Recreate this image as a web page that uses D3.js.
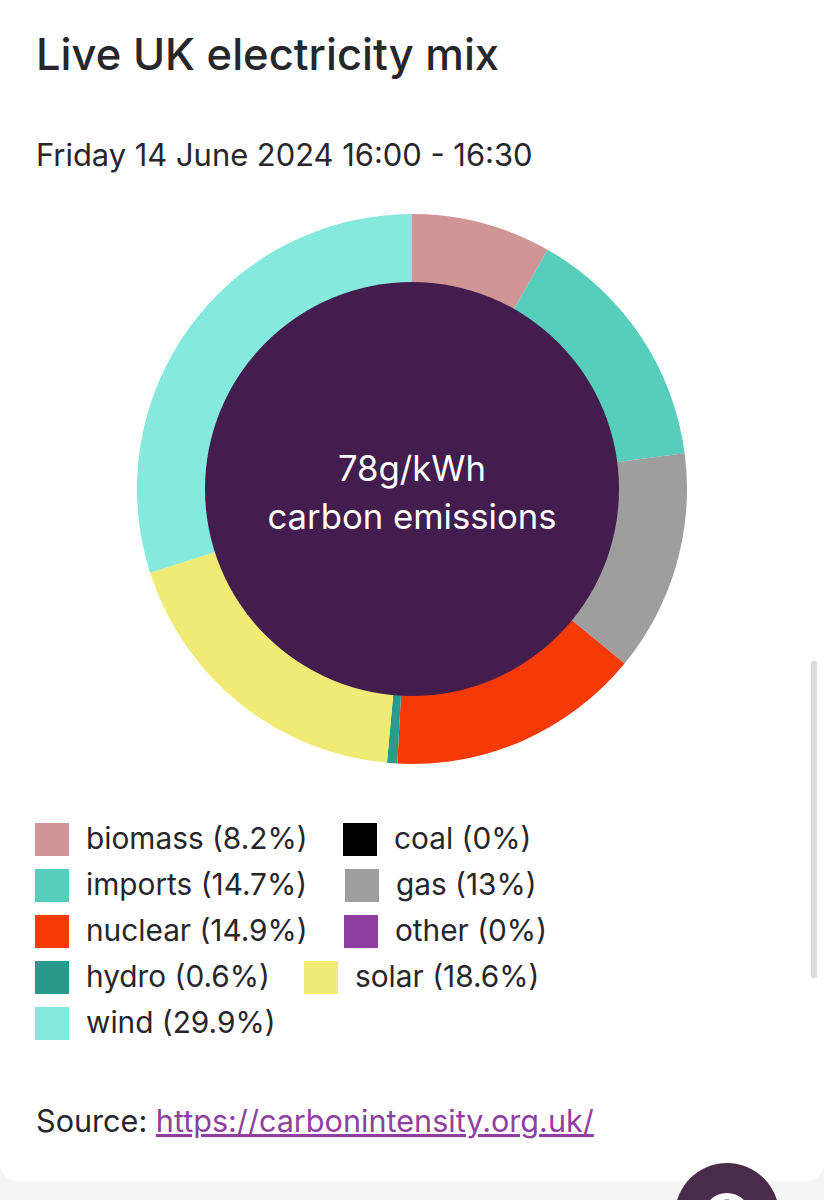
<!DOCTYPE html>
<html>
<head>
<meta charset="utf-8">
<script src="https://cdn.jsdelivr.net/npm/d3@7"></script>
<style>
html, body { margin: 0; padding: 0; background: #fff; }
svg { display: block; }
text { font-family: Inter, "Noto Sans", sans-serif; fill: #26262b; }
</style>
</head>
<body>
<div id="chart"></div>
<script>
const fuels = ["biomass", "imports", "coal", "gas", "nuclear", "other", "hydro", "solar", "wind"];
const shares = [8.2, 14.7, 0, 13, 14.9, 0, 0.6, 18.6, 29.9];
const colours = ["#d09595", "#57cdbc", "#000000", "#9e9e9e", "#f53a08", "#8f3fa0", "#2b9a8e", "#f0eb74", "#85e9dd"];

// legend order as it wraps in the page, [row, swatch x]
const legendSlots = [[0, 35], [1, 35], [0, 343], [1, 345], [2, 35], [2, 344], [3, 35], [3, 304], [4, 35]];

function renderDonut() {
    const width = 824;
    const height = 1200;

    const svg = d3.select("#chart")
        .html("")
        .append("svg")
        .attr("width", width)
        .attr("height", height);

    // page background and white card
    svg.append("rect").attr("width", width).attr("height", height).attr("fill", "#f5f5f5");
    svg.append("rect").attr("x", 0).attr("y", -20).attr("width", width).attr("height", 1201)
        .attr("rx", 18).attr("fill", "#fff");

    svg.append("text").attr("x", 36).attr("y", 70)
        .style("font-size", "43.5px").style("font-weight", 500)
        .text("Live UK electricity mix");
    svg.append("text").attr("x", 36).attr("y", 166)
        .style("font-size", "30.9px")
        .text("Friday 14 June 2024 16:00 - 16:30");

    const pie = d3.pie().sort(null).value(d => d.share);
    const arc = d3.arc().innerRadius(206).outerRadius(275);
    const data = fuels.map((fuel, i) => ({ fuel, share: shares[i], colour: colours[i] }));

    const donut = svg.append("g").attr("transform", "translate(412,489)");
    donut.selectAll("path").data(pie(data)).enter().append("path")
        .attr("d", arc)
        .attr("fill", d => d.data.colour);
    donut.append("circle").attr("r", 207).attr("fill", "#431d4e");
    donut.append("text").attr("y", -8).attr("text-anchor", "middle")
        .style("font-size", "34.7px").style("fill", "#fff")
        .text("78g/kWh");
    donut.append("text").attr("y", 40).attr("text-anchor", "middle")
        .style("font-size", "34.7px").style("fill", "#fff")
        .text("carbon emissions");

    const y = d3.scalePoint().domain(d3.range(5)).range([823, 1007]);
    const legend = svg.append("g").selectAll("g").data(data).enter().append("g")
        .attr("transform", (d, i) => `translate(${legendSlots[i][1]},${y(legendSlots[i][0])})`);
    legend.append("rect")
        .attr("width", 34)
        .attr("height", 33)
        .attr("fill", d => d.colour);
    legend.append("text")
        .attr("x", 51)
        .attr("y", 26)
        .style("font-size", "29.8px")
        .text(d => `${d.fuel} (${d.share}%)`);

    const source = svg.append("text").attr("x", 36).attr("y", 1132).style("font-size", "30.6px");
    source.append("tspan").text("Source: ");
    source.append("tspan")
        .style("fill", "#8f3fa0")
        .style("text-decoration", "underline")
        .text("https://carbonintensity.org.uk/");

    // scrollbar
    svg.append("rect").attr("x", 811).attr("y", 661).attr("width", 6).attr("height", 317)
        .attr("rx", 2).attr("fill", "#dcdcdc");

    // help button, only the top of its icon is on screen
    svg.append("circle").attr("cx", 727).attr("cy", 1215).attr("r", 52).attr("fill", "#4a2b4a");
    svg.append("circle").attr("cx", 727).attr("cy", 1217).attr("r", 24).attr("fill", "#fff");
    svg.append("circle").attr("cx", 727).attr("cy", 1204).attr("r", 5).attr("fill", "#999");
}

renderDonut();
</script>
</body>
</html>
